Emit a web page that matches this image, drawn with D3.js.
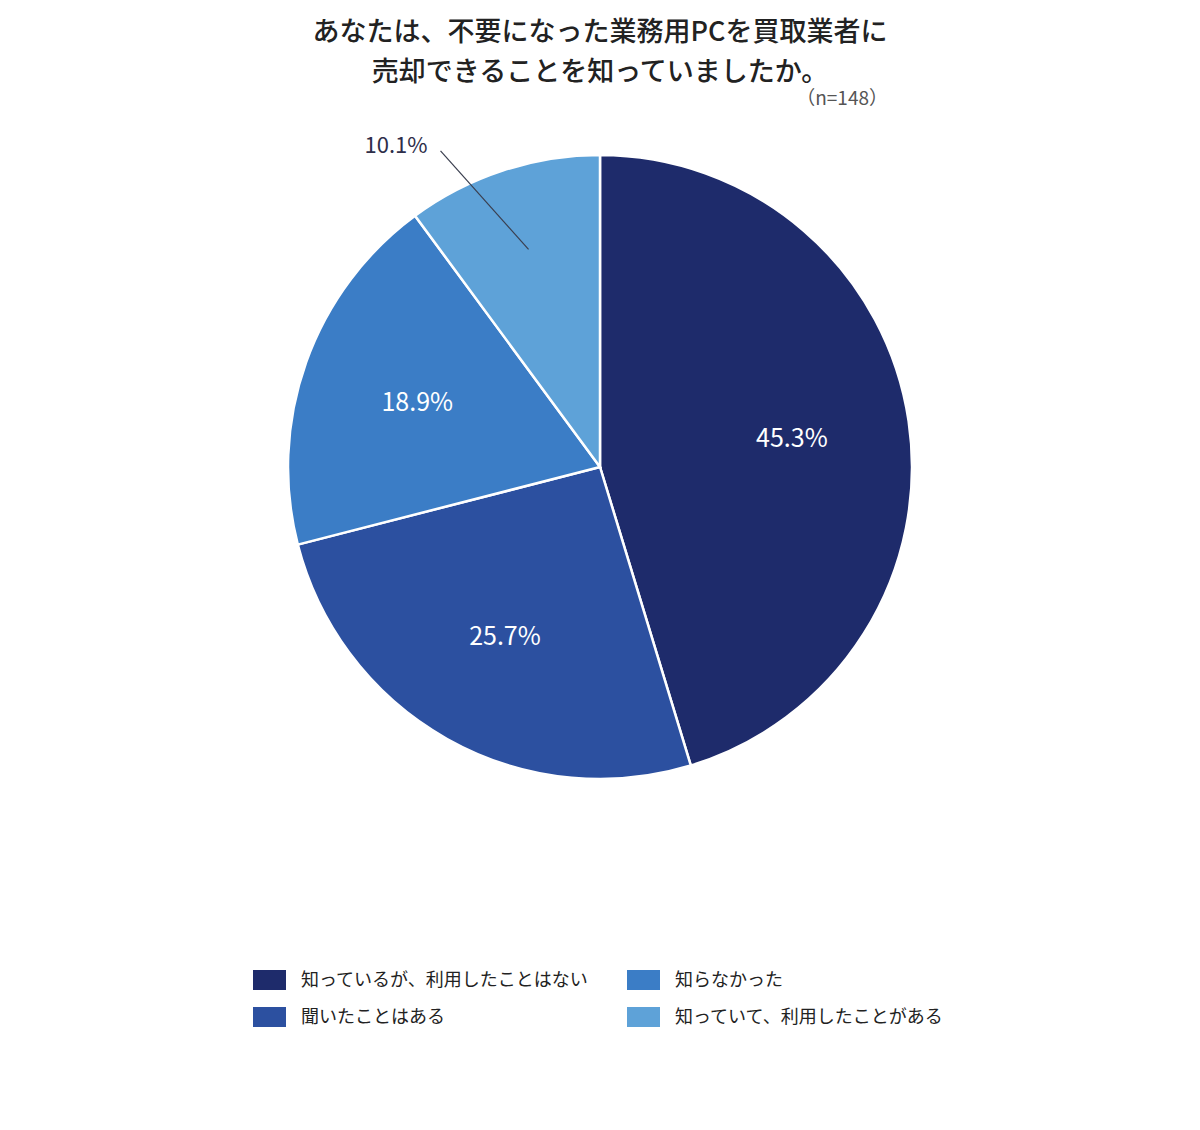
<!DOCTYPE html>
<html lang="ja">
<head>
    <meta charset="UTF-8">
    <script src="https://d3js.org/d3.v7.min.js"></script>
    <style>
        body {
            margin: 0;
            background-color: #fff;
            font-family: "Noto Sans CJK JP", "Noto Sans", sans-serif;
        }
        .title {
            font-size: 27px;
            font-weight: 500;
            fill: #222;
            text-anchor: middle;
        }
        .legend-text {
            font-size: 18px;
            fill: #222;
        }
    </style>
    <title>PC買取</title>
</head>
<body>
    <svg id="chart" width="1200" height="1130"></svg>
    <script>
        var categories = ["知っているが、利用したことはない", "聞いたことはある", "知らなかった", "知っていて、利用したことがある"];
        var values = [45.3, 25.7, 18.9, 10.1];
        var colors = ["#1e2b6b", "#2c50a0", "#3b7dc6", "#5ea2d8"];
        var titleLines = ["あなたは、不要になった業務用PCを買取業者に", "売却できることを知っていましたか。"];
        var sampleNote = "（n=148）";

        var svg = d3.select("#chart");
        var cx = 600, cy = 467, radius = 312;

        // title
        svg.selectAll(".title")
            .data(titleLines)
            .enter().append("text")
            .attr("class", "title")
            .attr("x", 600)
            .attr("y", function (d, i) { return 41 + i * 40; })
            .text(function (d) { return d; });

        svg.append("text")
            .attr("x", 888)
            .attr("y", 105)
            .attr("text-anchor", "end")
            .attr("font-size", 19)
            .attr("fill", "#555")
            .text(sampleNote);

        var pie = d3.pie().sort(null).value(function (d) { return d; });
        var arcs = pie(values);

        var arc = d3.arc().innerRadius(0).outerRadius(radius);
        var labelArc = d3.arc().innerRadius(194).outerRadius(194);

        var g = svg.append("g").attr("transform", "translate(" + cx + "," + cy + ")");

        g.selectAll("path")
            .data(arcs)
            .enter().append("path")
            .attr("d", arc)
            .attr("fill", function (d, i) { return colors[i]; })
            .attr("stroke", "#fff")
            .attr("stroke-width", 2.5);

        // labels inside the big slices
        g.selectAll(".inlabel")
            .data(arcs.filter(function (d) { return d.data > 15; }))
            .enter().append("text")
            .attr("class", "inlabel")
            .attr("transform", function (d) { return "translate(" + labelArc.centroid(d) + ")"; })
            .attr("text-anchor", "middle")
            .attr("dy", "0.35em")
            .attr("font-size", 25)
            .attr("fill", "#fff")
            .text(function (d) { return d.data.toFixed(1) + "%"; });

        // small slice: label outside with a leader line
        arcs.filter(function (d) { return d.data <= 15; }).forEach(function (d) {
            var mid = (d.startAngle + d.endAngle) / 2;
            var p1 = [229 * Math.sin(mid), -229 * Math.cos(mid)];
            var a2 = mid - 0.15;
            var p2 = [354 * Math.sin(a2), -354 * Math.cos(a2)];
            g.append("line")
                .attr("x1", p1[0]).attr("y1", p1[1])
                .attr("x2", p2[0]).attr("y2", p2[1])
                .attr("stroke", "#3a3f4f")
                .attr("stroke-width", 1.2);
            g.append("text")
                .attr("x", p2[0] - 13)
                .attr("y", p2[1] - 6)
                .attr("text-anchor", "end")
                .attr("dy", "0.35em")
                .attr("font-size", 22)
                .attr("fill", "#2e2e4a")
                .text(d.data.toFixed(1) + "%");
        });

        // legend, two columns
        var legend = svg.selectAll(".legend")
            .data(categories)
            .enter().append("g")
            .attr("class", "legend")
            .attr("transform", function (d, i) {
                var col = Math.floor(i / 2), row = i % 2;
                return "translate(" + (253 + col * 374) + "," + (970 + row * 37) + ")";
            });

        legend.append("rect")
            .attr("width", 33)
            .attr("height", 20)
            .attr("fill", function (d, i) { return colors[i]; });

        legend.append("text")
            .attr("class", "legend-text")
            .attr("x", 48)
            .attr("y", 10)
            .attr("dy", "0.35em")
            .text(function (d) { return d; });
    </script>
</body>
</html>
